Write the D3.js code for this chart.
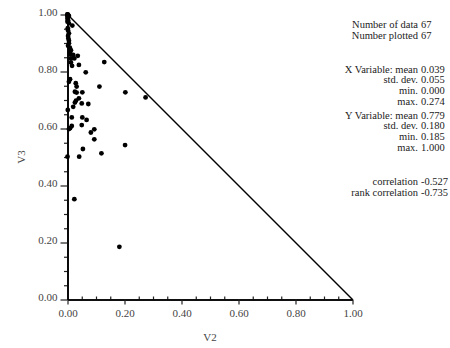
<!DOCTYPE html>
<html><head><meta charset="utf-8">
<script src="https://cdn.jsdelivr.net/npm/d3@7"></script>
<style>body{margin:0;background:#fff}svg{display:block}
svg text{font-family:"Liberation Serif",Tinos,"Times New Roman",Times,"DejaVu Serif",serif}</style>
</head><body><svg id="c" width="450" height="348"></svg>
<script>
const xValues = [0.000,0.002,0.000,0.005,0.005,0.017,0.001,0.005,0.003,0.005,0.008,0.012,0.009,0.020,0.024,0.036,0.012,0.129,0.040,0.012,0.064,0.009,0.005,0.029,0.032,0.112,0.203,0.274,0.026,0.032,0.052,0.040,0.030,0.026,0.073,0.050,0.020,0.001,0.015,0.052,0.067,0.050,0.015,0.009,0.005,0.094,0.082,0.094,0.202,0.054,0.000,0.041,0.119,0.024,0.182,0.000,0.000,0.002,0.000,0.002,0.000,0.002,0.002,0.005,0.002,0.009,0.016];
const yValues = [1.000,0.998,0.991,0.995,0.969,0.961,0.952,0.934,0.916,0.899,0.884,0.875,0.860,0.858,0.846,0.855,0.846,0.833,0.823,0.832,0.797,0.773,0.764,0.759,0.747,0.747,0.727,0.709,0.729,0.726,0.727,0.706,0.698,0.691,0.686,0.688,0.676,0.665,0.639,0.639,0.630,0.612,0.609,0.601,0.598,0.597,0.586,0.562,0.542,0.528,0.501,0.501,0.513,0.352,0.185,1.000,0.997,0.993,0.985,0.980,0.975,0.944,0.925,0.908,0.890,0.867,0.820];
const majorTicks = [0,0.2,0.4,0.6,0.8,1.0];
const minorTicks = [0.05,0.1,0.15,0.25,0.3,0.35,0.45,0.5,0.55,0.65,0.7,0.75,0.85,0.9,0.95];
const boundary = [[0,1],[1,0]];
const statLabels = ["Number of data","Number plotted","X Variable: mean","std. dev.","min.","max.","Y Variable: mean","std. dev.","min.","max.","correlation","rank correlation"];
const statValues = ["67","67","0.039","0.055","0.000","0.274","0.779","0.180","0.185","1.000","-0.527","-0.735"];
const statY = [27.5,38.5,72.5,83.2,93.9,104.6,118.5,129.2,139.9,150.6,184.5,195.5];
const xLabel = "V2", yLabel = "V3";

const svg = d3.select("#c");
const x = d3.scaleLinear().domain([0,1]).range([67.5,352.5]);
const y = d3.scaleLinear().domain([0,1]).range([299.5,14.5]);
const fmt = d3.format(".2f");

const gxm = svg.append("g").attr("transform","translate(0,299.5)")
  .call(d3.axisBottom(x).tickValues(minorTicks).tickSizeInner(-3).tickSizeOuter(0).tickFormat(""));
const gx = svg.append("g").attr("transform","translate(0,299.5)")
  .call(d3.axisBottom(x).tickValues(majorTicks).tickSizeInner(5).tickSizeOuter(0).tickPadding(5).tickFormat(fmt));
const gym = svg.append("g").attr("transform","translate(67.5,0)")
  .call(d3.axisLeft(y).tickValues(minorTicks).tickSizeInner(3.5).tickSizeOuter(0).tickFormat(""));
const gy = svg.append("g").attr("transform","translate(67.5,0)")
  .call(d3.axisLeft(y).tickValues(majorTicks).tickSizeInner(7).tickSizeOuter(0).tickPadding(3).tickFormat(fmt));

[gxm,gx,gym,gy].forEach(g=>{
  g.attr("font-family",null);
  g.select(".domain").attr("stroke","#000").attr("stroke-width",1.6);
  g.selectAll(".tick line").attr("stroke","#222").attr("stroke-width",1.2);
  g.selectAll("text").attr("font-size",11).attr("fill","#444");
});
gy.selectAll(".tick text").attr("dy","0.1em");

svg.append("path").datum(boundary)
  .attr("d", d3.line().x(d=>x(d[0])).y(d=>y(d[1])))
  .attr("fill","none").attr("stroke","#000").attr("stroke-width",1.5);

svg.append("g").selectAll("circle").data(xValues.map((v,i)=>[v,yValues[i]])).join("circle")
  .attr("cx",d=>x(d[0])).attr("cy",d=>y(d[1])).attr("r",2.4).attr("fill","#000");

svg.append("text").attr("x",210).attr("y",341).attr("text-anchor","middle")
  .attr("font-size",11).attr("fill","#444").text(xLabel);
svg.append("text").attr("transform","translate(25,157) rotate(-90)").attr("text-anchor","middle")
  .attr("font-size",11).attr("fill","#444").text(yLabel);

const st = svg.append("g");
st.selectAll("text.l").data(statLabels).join("text").attr("class","l")
  .attr("x",418).attr("y",(d,i)=>statY[i]).attr("text-anchor","end")
  .attr("font-size",10.5).attr("fill","#222").text(d=>d);
st.selectAll("text.v").data(statValues).join("text").attr("class","v")
  .attr("x",421).attr("y",(d,i)=>statY[i])
  .attr("font-size",10.5).attr("fill","#222").text(d=>d);
</script></body></html>
